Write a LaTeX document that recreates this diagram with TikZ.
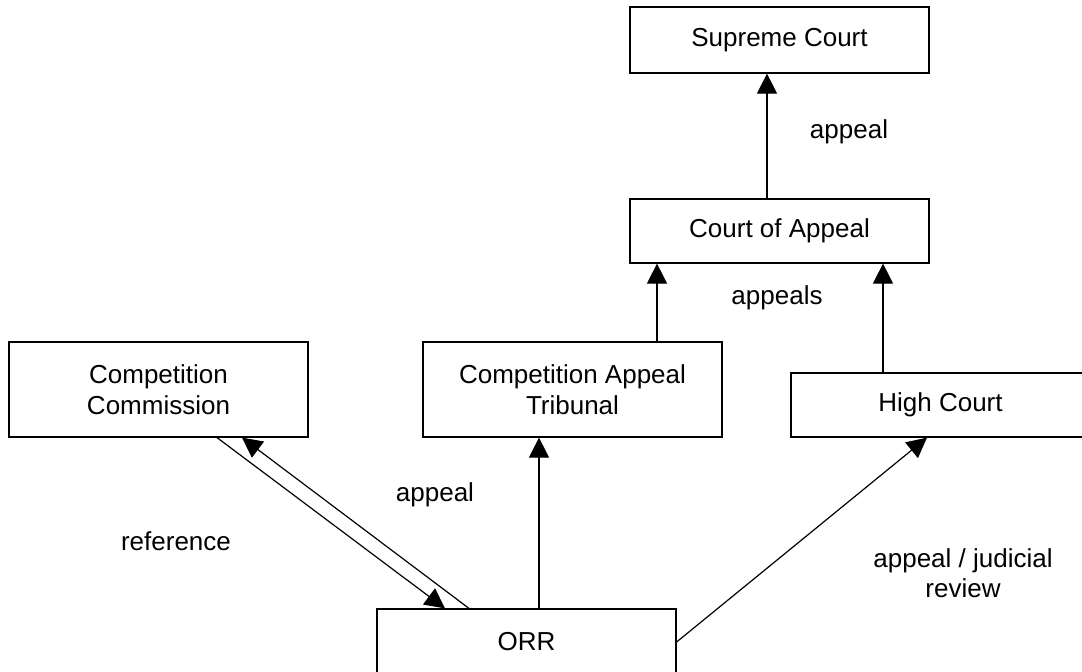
\documentclass[tikz,border=0pt]{standalone}
\usepackage{fontspec}
\setmainfont{Liberation Sans}
\usetikzlibrary{arrows.meta}

\begin{document}
\begin{tikzpicture}[x=1pt,y=-1pt,line width=1.2pt,
    >={Triangle[length=20pt,width=20pt]},
    court/.style={draw,minimum width=299pt,inner sep=0pt,align=center,
      font=\fontsize{26}{31}\selectfont},
    lbl/.style={align=center,font=\fontsize{26}{30}\selectfont}]
       \useasboundingbox (0,0) rectangle (1082,672);

       \node(SC)[court,minimum height=66pt] at (779.5,40) {Supreme Court};
       \node(CA)[court,minimum height=64pt] at (779.5,231) {Court of Appeal};

       \draw[->] ([xshift=-12.5pt]CA.north) -- ([xshift=-12.5pt]SC.south);
       \node(L1)[lbl] at (849,132) {appeal};

       \node(CC)[court,minimum height=95pt] at (158.5,389.5) {Competition\\Commission};
       \node(CAT)[court,minimum height=95pt] at (572.5,389.5) {Competition Appeal\\Tribunal};
       \node(HC)[court,minimum height=64pt] at (940.5,405) {High Court};

       \draw[->] ([xshift=84.5pt]CAT.north) -- ([xshift=84.5pt]CAT.north |- CA.south);
       \draw[->] ([xshift=-57.5pt]HC.north) -- ([xshift=-57.5pt]HC.north |- CA.south);
       \node(L2)[lbl] at (777,298) {appeals};

       \node(ORR)[court,minimum height=66pt] at (526.5,642) {ORR};

       \draw[->] ([xshift=12.5pt]ORR.north) -- ([xshift=12.5pt]ORR.north |- CAT.south);
       \draw[->] (ORR.east) -- ([xshift=-13.5pt]HC.south);
       \draw[->] ([xshift=58.5pt]CC.south) -- ([xshift=-81.5pt]ORR.north);
       \draw[->] ([xshift=-57.5pt]ORR.north) -- ([xshift=83.5pt]CC.south);

       \node(L3)[lbl] at (435,495) {appeal};
       \node(L4)[lbl] at (176,541) {reference};
       \node(L5)[lbl] at (963,573) {appeal / judicial\\review};
\end{tikzpicture}
\end{document}
